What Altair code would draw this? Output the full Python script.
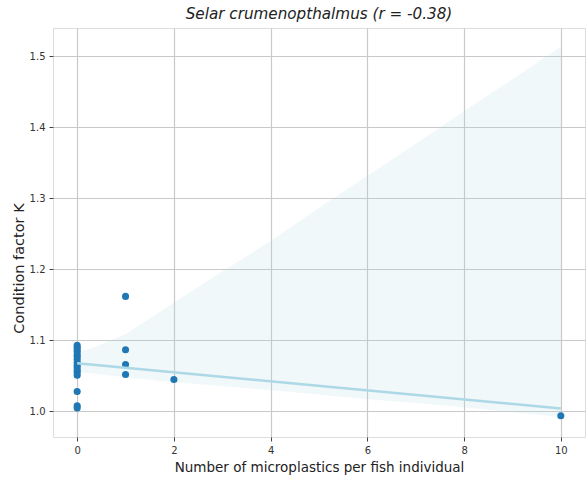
import altair as alt
import pandas as pd

# Microplastic counts and condition factor K per individual fish
mp_count = [0] * 16 + [1] * 4 + [2] + [10]
condition_k = [
    1.093, 1.090, 1.087, 1.084, 1.080, 1.077, 1.073, 1.069, 1.065, 1.062,
    1.058, 1.055, 1.051, 1.028, 1.008, 1.005,
    1.162, 1.087, 1.066, 1.052,
    1.045,
    0.994,
]

# Confidence band around the regression line
band_x = [0, 0.35, 1, 2, 3, 4, 5, 6, 7, 8, 9, 10]
band_upper = [1.083, 1.090, 1.109, 1.153, 1.197, 1.240, 1.287, 1.332, 1.377, 1.423, 1.468, 1.514]
band_lower = [1.056, 1.053, 1.048, 1.041, 1.036, 1.030, 1.024, 1.017, 1.012, 1.006, 0.999, 0.992]

x_ticks = [0, 2, 4, 6, 8, 10]
y_ticks = [1.0, 1.1, 1.2, 1.3, 1.4, 1.5]

points = pd.DataFrame({"n": mp_count, "k": condition_k})
band = pd.DataFrame({"n": band_x, "lo": band_lower, "hi": band_upper})

FONT = "DejaVu Sans"
x_scale = alt.Scale(domain=[-0.5, 10.5], nice=False, zero=False)
y_scale = alt.Scale(domain=[0.964, 1.540], nice=False, zero=False)

x_axis = alt.Axis(
    values=x_ticks, title="Number of microplastics per fish individual",
    titleFontSize=13.5, titleFont=FONT, titleFontWeight="normal", titleColor="#222",
    titlePadding=5, labelFont=FONT, labelFontSize=10, labelColor="#333",
    labelPadding=4, tickSize=4, tickColor="#444", domain=False,
    grid=True, gridColor="#c9c9c9", gridWidth=1.2,
)
y_axis = alt.Axis(
    values=y_ticks, format=".1f", title="Condition factor K",
    titleFontSize=14.5, titleFont=FONT, titleFontWeight="normal", titleColor="#222",
    titlePadding=3, titleY=240, labelFont=FONT, labelFontSize=10, labelColor="#333",
    labelPadding=4, tickSize=4, tickColor="#444", domain=False,
    grid=True, gridColor="#c9c9c9", gridWidth=1.2,
)

band_layer = alt.Chart(band).mark_area(color="#add8e6", opacity=0.18).encode(
    x=alt.X("n:Q", scale=x_scale, axis=x_axis),
    y=alt.Y("lo:Q", scale=y_scale, axis=y_axis),
    y2="hi:Q",
)

point_layer = alt.Chart(points).mark_circle(size=50, color="#1f77b4", opacity=1).encode(
    x=alt.X("n:Q", scale=x_scale),
    y=alt.Y("k:Q", scale=y_scale),
)

fit_layer = (
    alt.Chart(points)
    .transform_regression("n", "k", extent=[0, 10])
    .mark_line(color="#add8e6", strokeWidth=2.5)
    .encode(x=alt.X("n:Q", scale=x_scale), y=alt.Y("k:Q", scale=y_scale))
)

chart = (
    alt.layer(band_layer, point_layer, fit_layer)
    .properties(
        width=532,
        height=409,
        title=alt.TitleParams(
            "Selar crumenopthalmus (r = -0.38)",
            font=FONT, fontSize=15.2, fontStyle="italic", fontWeight="normal",
            color="#222", anchor="middle", offset=6,
        ),
        autosize=alt.AutoSizeParams(type="none"),
        padding={"left": 53, "top": 28, "right": 2, "bottom": 42},
    )
    .configure_view(stroke="#444", strokeWidth=1)
    .configure(background="white")
)

chart.save("out.html", embed_options={"renderer": "svg", "actions": False})
